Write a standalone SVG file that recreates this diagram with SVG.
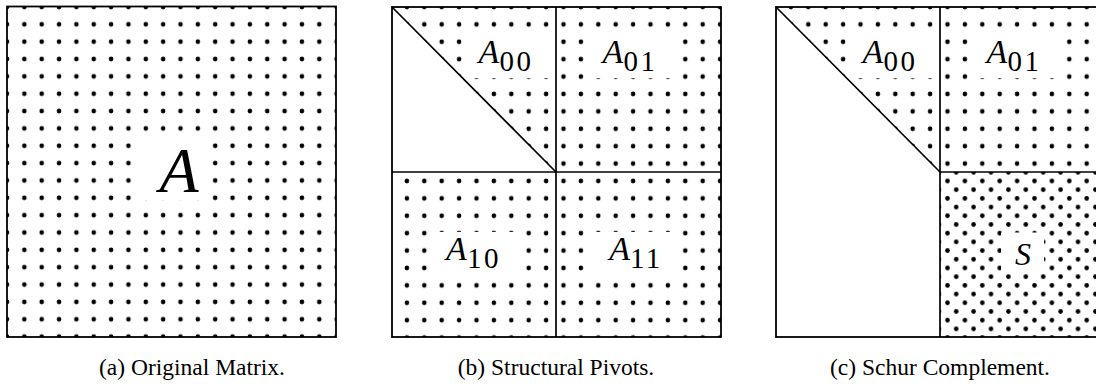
<svg xmlns="http://www.w3.org/2000/svg" width="1096" height="387" viewBox="0 0 1096 387">
<style>
.bx{fill:none;stroke:#000;stroke-width:1.8}
.ln{fill:none;stroke:#000;stroke-width:1.7}
.wb{fill:#fff}
.m{font-family:"Liberation Serif",serif;font-size:34px;fill:#000}
.big{font-size:64px}
.it{font-style:italic}
.sub{font-size:29px;letter-spacing:2.5px}
.cap{font-family:"Liberation Serif",serif;font-size:23.5px;fill:#000;text-anchor:middle}
</style>
<defs>
<pattern id="pa" patternUnits="userSpaceOnUse" x="-1.675" y="-1.675" width="17.35" height="17.35"><circle cx="8.675" cy="8.675" r="2.3" fill="#000"/></pattern>
<pattern id="pb" patternUnits="userSpaceOnUse" x="380.8" y="-1.7" width="17.4" height="17.4"><circle cx="8.7" cy="8.7" r="2.3" fill="#000"/></pattern>
<pattern id="pc" patternUnits="userSpaceOnUse" x="764.8" y="-1.7" width="17.4" height="17.4"><circle cx="8.7" cy="8.7" r="2.3" fill="#000"/></pattern>
<pattern id="ps" patternUnits="userSpaceOnUse" x="769.15" y="2.65" width="17.4" height="17.4"><circle cx="4.35" cy="4.35" r="2.3" fill="#000"/><circle cx="13.05" cy="13.05" r="2.3" fill="#000"/></pattern>
</defs>

<g id="panel-a">
<rect x="7" y="6.5" width="329" height="330.5" fill="url(#pa)"/>
<g id="node-A">
<rect class="wb" x="138" y="142.5" width="68" height="58"/>
<text class="m it big" x="179" y="191.7" text-anchor="middle">A</text>
</g>
<rect class="bx" x="7" y="6.5" width="329" height="330.5"/>
<text class="cap" x="192" y="375">(a) Original Matrix.</text>
</g>

<g id="panel-b">
<rect x="392" y="7" width="329" height="330" fill="url(#pb)"/>
<polygon class="wb" points="392,7 556,172 392,172"/>
<g id="node-b-A00">
<rect class="wb" x="462.5" y="34" width="87" height="44"/>
<text class="m" x="506" y="62.7" text-anchor="middle"><tspan class="it">A</tspan><tspan class="sub" dy="8.3">00</tspan></text>
</g>
<g id="node-b-A01">
<rect class="wb" x="586.5" y="34" width="87" height="44"/>
<text class="m" x="630" y="62.7" text-anchor="middle"><tspan class="it">A</tspan><tspan class="sub" dy="8.3">01</tspan></text>
</g>
<g id="node-b-A10">
<rect class="wb" x="430" y="232" width="87" height="44"/>
<text class="m" x="473.5" y="260" text-anchor="middle"><tspan class="it">A</tspan><tspan class="sub" dy="8.3">10</tspan></text>
</g>
<g id="node-b-A11">
<rect class="wb" x="592.5" y="232" width="87" height="44"/>
<text class="m" x="636" y="260" text-anchor="middle"><tspan class="it">A</tspan><tspan class="sub" dy="8.3">11</tspan></text>
</g>
<g id="lines-b">
<rect class="bx" x="392" y="7" width="329" height="330"/>
<line class="ln" x1="556" y1="7" x2="556" y2="337"/>
<line class="ln" x1="392" y1="172" x2="721" y2="172"/>
<line class="ln" x1="392" y1="7" x2="556" y2="172"/>
</g>
<text class="cap" x="556" y="375">(b) Structural Pivots.</text>
</g>

<g id="panel-c">
<polygon points="776,7 940,7 940,172" fill="url(#pc)"/>
<rect x="940" y="7" width="165" height="165" fill="url(#pc)"/>
<rect x="940" y="172" width="165" height="165" fill="url(#ps)"/>
<g id="node-c-A00">
<rect class="wb" x="846.5" y="34" width="87" height="44"/>
<text class="m" x="890" y="62.7" text-anchor="middle"><tspan class="it">A</tspan><tspan class="sub" dy="8.3">00</tspan></text>
</g>
<g id="node-c-A01">
<rect class="wb" x="970.5" y="34" width="87" height="44"/>
<text class="m" x="1014" y="62.7" text-anchor="middle"><tspan class="it">A</tspan><tspan class="sub" dy="8.3">01</tspan></text>
</g>
<g id="node-c-S">
<rect class="wb" x="1001" y="232.5" width="43" height="41"/>
<text class="m it" x="1023" y="265" text-anchor="middle" style="font-size:32px">S</text>
</g>
<g id="lines-c">
<rect class="bx" x="776" y="7" width="329" height="330"/>
<line class="ln" x1="940" y1="7" x2="940" y2="337"/>
<line class="ln" x1="940" y1="172" x2="1105" y2="172"/>
<line class="ln" x1="776" y1="7" x2="940" y2="172"/>
</g>
<text class="cap" x="940" y="375">(c) Schur Complement.</text>
</g>
</svg>
